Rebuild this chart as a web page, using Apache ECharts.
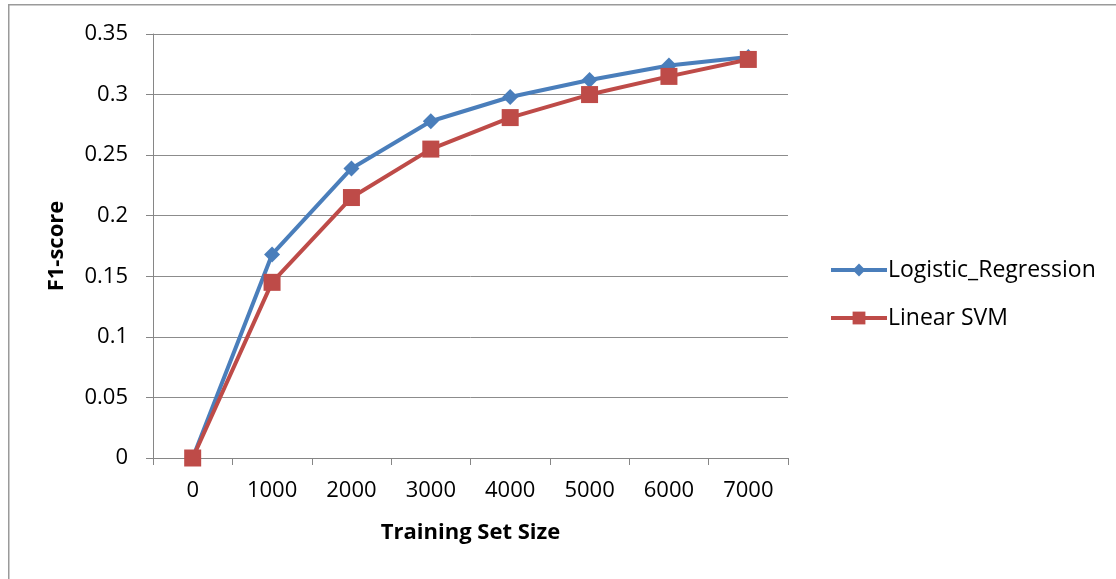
<!DOCTYPE html>
<html>
<head>
<meta charset="utf-8">
<script src="https://cdn.jsdelivr.net/npm/echarts@6/dist/echarts.min.js"></script>
<style>
html,body{margin:0;padding:0;background:#fff;}
#chart{width:1116px;height:579px;}
</style>
</head>
<body>
<div id="chart"></div>
<script>
const categories = ['0','1000','2000','3000','4000','5000','6000','7000'];
const logisticRegression = [0, 0.168, 0.239, 0.278, 0.298, 0.312, 0.324, 0.331];
const linearSVM = [0, 0.145, 0.215, 0.255, 0.281, 0.300, 0.315, 0.329];
const yTicks = [0, 0.05, 0.1, 0.15, 0.2, 0.25, 0.3, 0.35];

const chart = echarts.init(document.getElementById('chart'));
const font = 'Open Sans, Noto Sans, sans-serif';
chart.setOption({
  animation: false,
  backgroundColor: '#ffffff',
  graphic: [{
    type: 'rect', left: 8, top: 4, z: -10,
    shape: {width: 1200, height: 700},
    style: {fill: '#ffffff', stroke: '#9a9a9a', lineWidth: 1.5}
  }],
  grid: {left: 153, top: 34, width: 635, height: 424, containLabel: false},
  legend: {
    orient: 'vertical', left: 824, top: 252, itemGap: 22,
    itemWidth: 56, itemHeight: 16,
    lineStyle: {width: 4},
    textStyle: {fontFamily: font, fontSize: 23, lineHeight: 26, color: '#000', padding: [0,0,0,-4]},
    data: ['Logistic_Regression', 'Linear SVM']
  },
  xAxis: {
    type: 'category', data: categories, boundaryGap: true,
    name: 'Training Set Size', nameLocation: 'middle', nameGap: 64,
    nameTextStyle: {fontFamily: font, fontSize: 22, fontWeight: 'bold', color: '#000'},
    axisLine: {lineStyle: {color: '#868686', width: 1}},
    axisTick: {show: true, length: 7, alignWithLabel: false, lineStyle: {color: '#868686'}},
    axisLabel: {fontFamily: font, fontSize: 22, color: '#000', margin: 22}
  },
  yAxis: {
    type: 'value', min: 0, max: 0.35, interval: 0.05,
    name: 'F1-score', nameLocation: 'middle', nameGap: 85,
    nameTextStyle: {fontFamily: font, fontSize: 22, fontWeight: 'bold', color: '#000'},
    axisLine: {show: true, lineStyle: {color: '#868686', width: 1}},
    axisTick: {show: true, length: 7, lineStyle: {color: '#868686'}},
    axisLabel: {fontFamily: font, fontSize: 22, color: '#000', margin: 25,
      formatter: v => String(+v.toFixed(2))},
    splitLine: {lineStyle: {color: '#8c8c8c', width: 1}}
  },
  series: [
    {
      name: 'Logistic_Regression', type: 'line', data: logisticRegression,
      symbol: 'diamond', symbolSize: 16,
      lineStyle: {color: '#4a7ebb', width: 4},
      itemStyle: {color: '#4a7ebb'}, z: 3
    },
    {
      name: 'Linear SVM', type: 'line', data: linearSVM,
      symbol: 'rect', symbolSize: 17,
      lineStyle: {color: '#be4b48', width: 4},
      itemStyle: {color: '#be4b48'}, z: 4
    }
  ]
});
</script>
</body>
</html>
